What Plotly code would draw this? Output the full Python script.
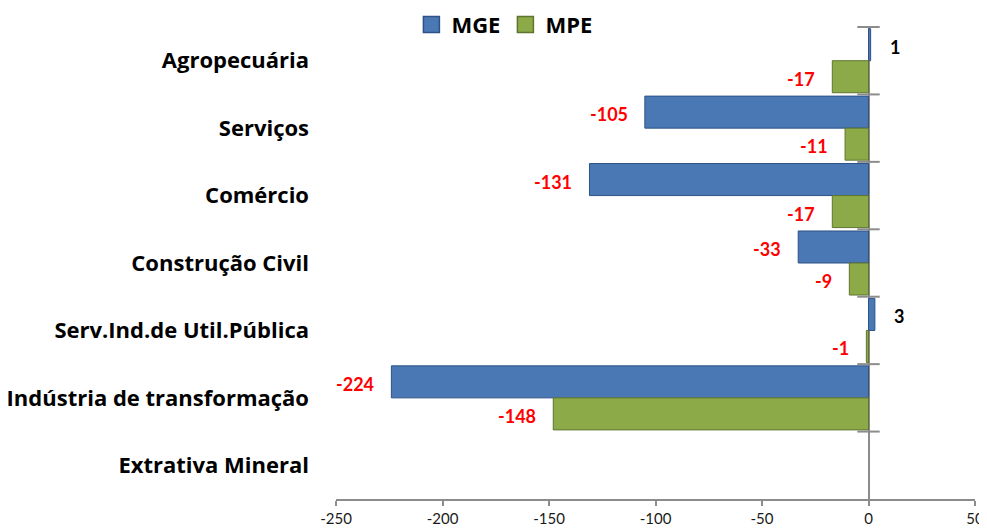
import plotly.graph_objects as go

categories = ["Agropecuária", "Serviços", "Comércio", "Construção Civil",
              "Serv.Ind.de Util.Pública", "Indústria de transformação", "Extrativa Mineral"]
mge = [1, -105, -131, -33, 3, -224, None]
mpe = [-17, -11, -17, -9, -1, -148, None]
x_ticks = [-250, -200, -150, -100, -50, 0, 50]

FONT = "Lato"
LABEL_FONT = "Open Sans"
BARGAP = 0.05
BLUE, BLUE_EDGE = "#4A78B4", "#2E5286"
GREEN, GREEN_EDGE = "#8CAA48", "#5E7430"

ypos = list(range(len(categories)))

fig = go.Figure()
fig.add_trace(go.Bar(
    name="MGE", y=ypos, x=mge, orientation="h", showlegend=False,
    marker=dict(color=BLUE, line=dict(color=BLUE_EDGE, width=1)),
    hoverinfo="x+y",
))
fig.add_trace(go.Bar(
    name="MPE", y=ypos, x=mpe, orientation="h", showlegend=False,
    marker=dict(color=GREEN, line=dict(color=GREEN_EDGE, width=1)),
    hoverinfo="x+y",
))
# legend entries (square swatches)
for nm, c, e in (("MGE", BLUE, BLUE_EDGE), ("MPE", GREEN, GREEN_EDGE)):
    fig.add_trace(go.Scatter(
        x=[None], y=[None], mode="markers", name=f"<b>{nm}</b>",
        marker=dict(symbol="square", size=16, color=c, line=dict(color=e, width=1.5)),
        showlegend=True,
    ))

# category boundary tick marks on the zero line
bounds = [i - 0.5 for i in range(len(categories))]
fig.add_trace(go.Scatter(
    x=[0] * len(bounds), y=bounds, mode="markers",
    marker=dict(symbol="line-ew", size=16, line=dict(color="#8C8C8C", width=2)),
    showlegend=False, hoverinfo="skip", cliponaxis=False,
))

annotations = []
half = (1 - BARGAP) / 4
for series, off in ((mge, -half), (mpe, half)):
    for i, v in enumerate(series):
        if v is None:
            continue
        neg = v < 0
        annotations.append(dict(
            x=v, y=i + off, xref="x", yref="y",
            text=f"<b>{v}</b>", showarrow=False,
            xanchor="right" if neg else "left",
            xshift=-15 if neg else 17,
            yshift=-2,
            font=dict(family=FONT, size=18, color="#FF0000" if neg else "#000000"),
        ))

# page body adds an 8px offset; size/margins compensate so the plot area
# sits at x 336..975, y 27..499 in the window
fig.update_layout(
    width=979, height=524,
    margin=dict(l=328, r=12, t=19, b=33, autoexpand=False),
    paper_bgcolor="white", plot_bgcolor="white",
    barmode="group", bargap=BARGAP, bargroupgap=0,
    font=dict(family=FONT, color="#000000"),
    showlegend=True,
    legend=dict(orientation="h", x=0.118, y=1.005, xanchor="left", yanchor="middle",
                font=dict(family=LABEL_FONT, size=22, color="#000000"),
                itemwidth=30, traceorder="normal", bgcolor="rgba(0,0,0,0)",
                tracegroupgap=0),
    annotations=annotations,
)
fig.update_xaxes(
    range=[-250, 50], tickvals=x_ticks, ticktext=[str(t) for t in x_ticks],
    showgrid=False, zeroline=True, zerolinecolor="#8C8C8C", zerolinewidth=2,
    showline=True, linecolor="#8C8C8C", linewidth=2,
    ticks="outside", ticklen=5, tickcolor="#8C8C8C", tickwidth=2,
    tickfont=dict(family=FONT, size=15, color="#1A1A1A"),
    ticklabeloverflow="allow",
    automargin=False,
)
fig.update_yaxes(
    range=[len(categories) - 0.5, -0.5], tickvals=ypos,
    ticktext=[f"<b>{c}</b>" for c in categories],
    showgrid=False, zeroline=False, showline=False, ticks="",
    ticklabelstandoff=26,
    tickfont=dict(family=LABEL_FONT, size=22, color="#000000"),
    automargin=False,
)
fig.write_html("out.html")
